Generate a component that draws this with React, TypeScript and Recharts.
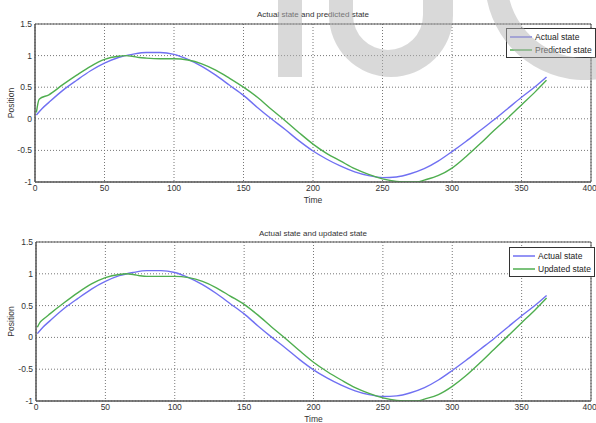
import React from 'react';
import { LineChart, Line, XAxis, YAxis, CartesianGrid, Legend, ReferenceArea } from 'recharts';

// sample times and positions
const actualTime = [1, 5, 10, 20, 30, 40, 50, 60, 70, 80, 90, 100, 110, 120, 130, 140, 150, 160, 170, 180, 190, 200, 210, 220, 230, 240, 250, 260, 270, 280, 290, 300, 310, 320, 330, 340, 350, 360, 368];
const actualPos = [0.06, 0.16, 0.26, 0.45, 0.61, 0.76, 0.88, 0.97, 1.02, 1.05, 1.05, 1.02, 0.94, 0.83, 0.69, 0.53, 0.37, 0.18, 0.0, -0.17, -0.35, -0.51, -0.64, -0.75, -0.84, -0.9, -0.93, -0.92, -0.87, -0.79, -0.67, -0.52, -0.36, -0.19, -0.02, 0.16, 0.34, 0.51, 0.66];

const predictedTime = [1, 3, 10, 20, 30, 40, 50, 60, 65, 70, 75, 80, 90, 100, 110, 120, 130, 140, 150, 160, 170, 180, 190, 200, 210, 220, 230, 240, 250, 260, 270, 275, 280, 290, 300, 310, 320, 330, 340, 350, 360, 368];
const predictedPos = [0.1, 0.31, 0.38, 0.54, 0.69, 0.83, 0.94, 0.99, 1.0, 0.99, 0.97, 0.96, 0.95, 0.95, 0.93, 0.87, 0.77, 0.64, 0.5, 0.34, 0.15, -0.03, -0.22, -0.4, -0.55, -0.67, -0.79, -0.88, -0.95, -0.99, -1.0, -1.0, -0.97, -0.9, -0.78, -0.6, -0.4, -0.19, 0.01, 0.22, 0.43, 0.61];

const updatedTime = [1, 3, 5, 10, 20, 30, 40, 50, 60, 65, 70, 75, 80, 90, 100, 110, 120, 130, 140, 150, 160, 170, 180, 190, 200, 210, 220, 230, 240, 250, 260, 270, 275, 280, 290, 300, 310, 320, 330, 340, 350, 360, 368];
const updatedPos = [0.16, 0.24, 0.28, 0.37, 0.54, 0.7, 0.84, 0.94, 0.99, 1.0, 0.99, 0.97, 0.96, 0.96, 0.96, 0.94, 0.88, 0.78, 0.65, 0.52, 0.35, 0.16, -0.02, -0.21, -0.39, -0.54, -0.67, -0.79, -0.88, -0.95, -0.99, -1.0, -1.0, -0.97, -0.9, -0.77, -0.6, -0.4, -0.19, 0.02, 0.23, 0.44, 0.62];

const timeTicks = [0, 50, 100, 150, 200, 250, 300, 350, 400];
const posTicks = [-1, -0.5, 0, 0.5, 1, 1.5];

const toRows = (times: number[], values: number[]) => times.map((t, i) => ({ t, pos: values[i] }));

const actualData = toRows(actualTime, actualPos);
const predictedData = toRows(predictedTime, predictedPos);
const updatedData = toRows(updatedTime, updatedPos);

const FONT = "'Liberation Sans Narrow', 'Arial Narrow', 'Liberation Sans', Arial, sans-serif";
const BLUE = '#7070f2';
const GREEN = '#4fae4f';
const TEXT = '#333';

const StateLegend = ({ payload }: any) => (
  <div style={{ border: '1px solid #333', background: '#fff', padding: '1px 3px', fontFamily: FONT, fontSize: 8.5, color: '#222' }}>
    {(payload || []).map((entry: any) => (
      <div key={entry.value} style={{ display: 'flex', alignItems: 'center', height: 13 }}>
        <svg width={22} height={6}>
          <line x1={0} y1={3} x2={22} y2={3} stroke={entry.color} strokeWidth={1.5} />
        </svg>
        <span style={{ marginLeft: 3, whiteSpace: 'nowrap' }}>{entry.value}</span>
      </div>
    ))}
  </div>
);

const positionLabel = ({ viewBox }: any) => {
  const cx = 12;
  const cy = viewBox.y + viewBox.height / 2;
  return (
    <text x={cx} y={cy} transform={`rotate(-90, ${cx}, ${cy})`} textAnchor="middle" dominantBaseline="middle" fontFamily={FONT} fontSize={8.5} fill={TEXT}>
      Position
    </text>
  );
};

interface PanelProps {
  height: number;
  top: number;
  axisWidth: number;
  axisHeight: number;
  labelOffset: number;
  legendTop: number;
  legendLeft: number;
  estimate: { t: number; pos: number }[];
  estimateName: string;
}

const StatePanel = ({ height, top, axisWidth, axisHeight, labelOffset, legendTop, legendLeft, estimate, estimateName }: PanelProps) => (
  <LineChart width={596} height={height} margin={{ top, right: 5, bottom: 0, left: 0 }}>
    <CartesianGrid stroke="#777" strokeDasharray="1 2" />
    <ReferenceArea x1={0} x2={400} y1={-1} y2={1.5} fill="none" stroke="#555" strokeWidth={1} />
    <XAxis
      type="number"
      dataKey="t"
      domain={[0, 400]}
      ticks={timeTicks}
      height={axisHeight}
      tickLine={false}
      tickSize={3}
      tickMargin={0}
      axisLine={{ stroke: '#555' }}
      tick={{ fontSize: 8.5, fill: TEXT, fontFamily: FONT }}
      allowDataOverflow
      label={{ value: 'Time', position: 'insideBottom', offset: labelOffset, fontSize: 8.5, fill: TEXT, fontFamily: FONT }}
    />
    <YAxis
      type="number"
      domain={[-1, 1.5]}
      ticks={posTicks}
      width={axisWidth}
      tickLine={false}
      tickSize={3}
      tickMargin={0}
      axisLine={{ stroke: '#555' }}
      tick={{ fontSize: 8.5, fill: TEXT, fontFamily: FONT }}
      allowDataOverflow
      label={{ content: positionLabel }}
    />
    <Legend
      layout="horizontal"
      verticalAlign="middle"
      align="center"
      content={<StateLegend />}
      wrapperStyle={{ top: legendTop, left: legendLeft, width: 'auto' }}
    />
    <Line data={actualData} dataKey="pos" name="Actual state" type="monotone" stroke={BLUE} strokeWidth={1.4} dot={false} isAnimationActive={false} />
    <Line data={estimate} dataKey="pos" name={estimateName} type="monotone" stroke={GREEN} strokeWidth={1.4} dot={false} isAnimationActive={false} />
  </LineChart>
);

// faint site watermark laid over both panels
const Watermark = () => (
  <g fill="#b4b4b4" fillOpacity={0.5}>
    <rect x={278} y={0} width={24} height={77} />
    <path fillRule="evenodd" d="M329 0 L329 15 A62 62 0 0 0 453 15 L453 0 Z M353 0 L353 15 A35 35 0 0 0 423 15 L423 0 Z" />
    <path d="M487 0 A100 100 0 0 0 685 -20 L663 -20 A78 78 0 0 1 509.6 0 Z" />
  </g>
);

export default function App() {
  return (
    <div style={{ position: 'absolute', left: 0, top: 0, width: 596, height: 423, background: '#fff', overflow: 'hidden' }}>
      <StatePanel height={210} top={24} axisWidth={35} axisHeight={28} labelOffset={7} legendTop={28} legendLeft={506} estimate={predictedData} estimateName="Predicted state" />
      <StatePanel height={213} top={32} axisWidth={36} axisHeight={22} labelOffset={1} legendTop={37} legendLeft={509} estimate={updatedData} estimateName="Updated state" />
      <svg width={596} height={423} style={{ position: 'absolute', left: 0, top: 0, pointerEvents: 'none' }}>
        <g fontFamily={FONT} fontSize={8} fill={TEXT} textAnchor="middle">
          <text x={313} y={17}>Actual state and predicted state</text>
          <text x={313} y={236}>Actual state and updated state</text>
        </g>
        <Watermark />
      </svg>
    </div>
  );
}
